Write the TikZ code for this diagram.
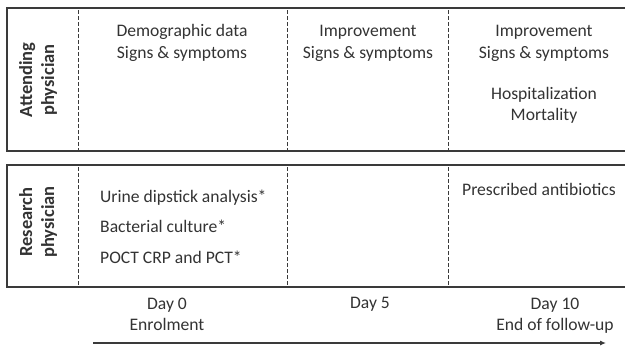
\documentclass[tikz,border=0pt]{standalone}
\usepackage{fontspec}
\setmainfont{Carlito}
\usetikzlibrary{arrows.meta}
\definecolor{ink}{HTML}{333333}
\definecolor{rule}{HTML}{3A3A3A}
\begin{document}
\begin{tikzpicture}[x=1pt,y=-1pt,
  panel/.style={draw=rule,line width=1.3pt},
  divider/.style={draw=rule,line width=0.9pt,dash pattern=on 3.5pt off 2.5pt},
  txt/.style={text=ink,font=\fontsize{17.6}{21}\selectfont,inner sep=0pt},
  role/.style={text=ink,font=\fontsize{18.5}{22}\selectfont\bfseries,rotate=90,align=center,inner sep=0pt},
  timeline/.style={draw=rule,line width=1.1pt,-{Latex[length=6pt,width=5pt]}}]
\useasboundingbox (0,0) rectangle (625,348);
% panels (open to the right)
\draw[panel] (640,8) -- (7,8) -- (7,151) -- (640,151);
\draw[panel] (640,165) -- (7,165) -- (7,287) -- (640,287);
% column dividers
\draw[divider] (78,10) -- (78,150);
\draw[divider] (287,10) -- (287,150);
\draw[divider] (448,10) -- (448,150);
\draw[divider] (78,167) -- (78,286);
\draw[divider] (287,167) -- (287,286);
\draw[divider] (448,167) -- (448,286);
% row labels
\node[role] (att) at (38,80) {Attending\\physician};
\node[role] (res) at (38,222) {Research\\physician};
% attending physician row (base anchor = baseline of the last line)
\node[txt,align=center,anchor=base] (a0) at (182,58) {Demographic data\\Signs \& symptoms};
\node[txt,align=center,anchor=base] (a5) at (368,58) {Improvement\\Signs \& symptoms};
\node[txt,align=center,anchor=base] (a10) at (544,58) {Improvement\\Signs \& symptoms};
\node[txt,align=center,anchor=base] (a10b) at (544,120) {Hospitalization\\Mortality};
% research physician row
\node[txt,anchor=base west] (r1) at (100,202) {Urine dipstick analysis*};
\node[txt,anchor=base west] (r2) at (100,232) {Bacterial culture*};
\node[txt,anchor=base west] (r3) at (100,263) {POCT CRP and PCT*};
\node[txt,anchor=base west] (r4) at (462,195) {Prescribed antibiotics};
% time points
\node[txt,align=center,anchor=base] (d0) at (167,330) {Day 0\\Enrolment};
\node[txt,align=center,anchor=base] (d5) at (370,308) {Day 5};
\node[txt,align=center,anchor=base] (d10) at (555,330) {Day 10\\End of follow-up};
% time axis
\coordinate (t0) at (93,343);
\coordinate (t1) at (606,343);
\draw[timeline] (t0) -- (t1);
\end{tikzpicture}
\end{document}
